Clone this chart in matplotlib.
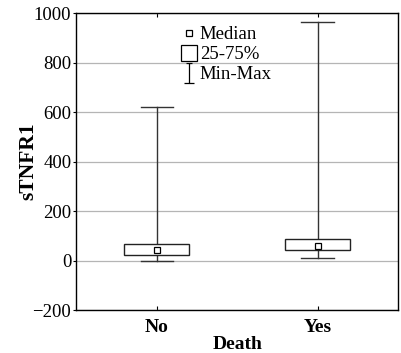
import matplotlib
matplotlib.use("Agg")
import matplotlib.pyplot as plt
from matplotlib.lines import Line2D
from matplotlib.path import Path

# data
groups = ["No", "Yes"]
mins = [1, 11]
q1 = [24, 43]
medians = [45, 61]
q3 = [67, 89]
maxs = [620, 962]

plt.rcParams["font.family"] = ["Liberation Serif", "DejaVu Serif"]
plt.rcParams["font.size"] = 13.5

fig, ax = plt.subplots(figsize=(4.01, 3.53), dpi=100)
fig.subplots_adjust(left=0.19, right=0.9925, top=0.963, bottom=0.121)

stats = []
for i, g in enumerate(groups):
    stats.append({"label": g, "whislo": mins[i], "q1": q1[i], "med": medians[i],
                  "q3": q3[i], "whishi": maxs[i], "fliers": []})

pos = list(range(len(groups)))
ax.bxp(stats, positions=pos, widths=0.4, patch_artist=True, showfliers=False,
       boxprops=dict(facecolor="white", edgecolor="#222222", linewidth=1.0, zorder=3),
       whiskerprops=dict(color="#333333", linewidth=1.0, zorder=2),
       capprops=dict(color="#333333", linewidth=1.0, zorder=2),
       capwidths=0.2,
       medianprops=dict(linewidth=0))
ax.plot(pos, medians, ls="none", marker="s", ms=4, mfc="white", mec="black",
        mew=0.9, zorder=4)

ax.set_xlim(-0.5, 1.5)
ax.set_ylim(-200, 1000)
ax.set_yticks(range(-200, 1001, 200))
ax.set_xticks(pos)
ax.set_xticklabels(groups, fontweight="bold", fontsize=14)
ax.yaxis.grid(True, color="#b5b5b5", linewidth=0.9)
ax.set_axisbelow(True)
ax.tick_params(axis="x", direction="in", top=True, length=3, pad=6)
ax.tick_params(axis="y", direction="out", length=2.5, pad=1)
ax.set_xlabel("Death", fontweight="bold", fontsize=14, labelpad=0)
ax.set_ylabel("sTNFR1", fontweight="bold", fontsize=15.5, labelpad=-4)
for s in ax.spines.values():
    s.set_linewidth(1.0)

# legend handles
minmax = Path([(-0.5, -1), (0.5, -1), (0, -1), (0, 1), (-0.3, 1), (0.3, 1)],
              [Path.MOVETO, Path.LINETO, Path.MOVETO, Path.LINETO, Path.MOVETO, Path.LINETO])
handles = [
    Line2D([], [], ls="none", marker="s", ms=5, mfc="white", mec="black", mew=0.9),
    Line2D([], [], ls="none", marker="s", ms=11, mfc="white", mec="black", mew=0.9),
    Line2D([], [], ls="none", marker=minmax, ms=14, mec="black", mew=0.9),
]
ax.legend(handles, ["Median", "25-75%", "Min-Max"], loc="upper left",
          bbox_to_anchor=(0.288, 1.0), frameon=False, handlelength=0.8,
          handletextpad=0.15, labelspacing=0.15, borderpad=0.2, fontsize=13.5)

fig.savefig("out.png", dpi=100)
